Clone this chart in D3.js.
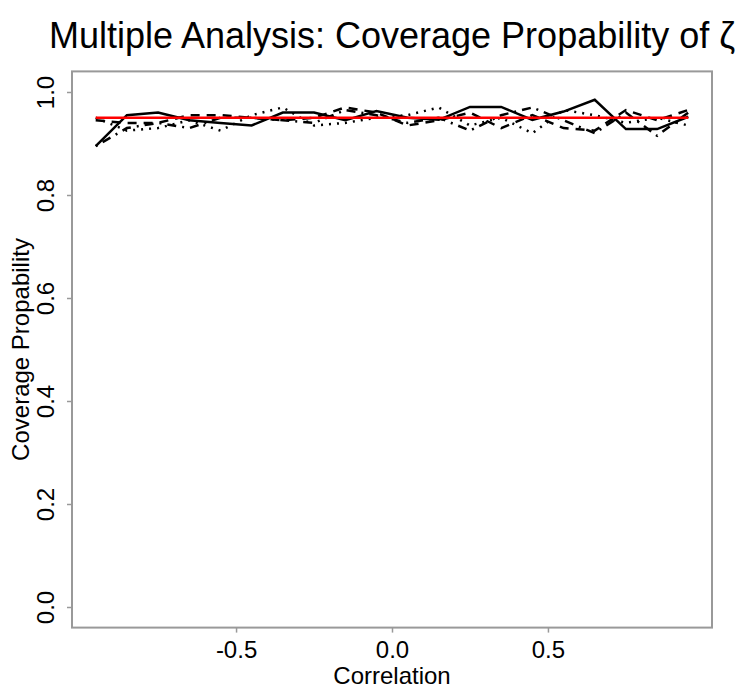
<!DOCTYPE html>
<html>
<head>
<meta charset="utf-8">
<script src="https://d3js.org/d3.v7.min.js"></script>
<style>
    body { margin: 0; background: #fff; }
    text { font-family: "Liberation Sans", Arial, sans-serif; fill: #000; }
</style>
</head>
<body>
<div id="chart"></div>
<script>
    // correlation values on the x axis
    var correlation = [-0.95, -0.85, -0.75, -0.65, -0.55, -0.45, -0.35, -0.25, -0.15, -0.05,
                        0.05, 0.15, 0.25, 0.35, 0.45, 0.55, 0.65, 0.75, 0.85, 0.95];

    // coverage probabilities, one array per line type
    var solid   = [0.895, 0.955, 0.960, 0.945, 0.940, 0.935, 0.960, 0.960, 0.945, 0.963,
                   0.950, 0.946, 0.971, 0.971, 0.946, 0.962, 0.985, 0.928, 0.928, 0.952];
    var dashed  = [0.945, 0.940, 0.940, 0.955, 0.955, 0.950, 0.945, 0.950, 0.970, 0.960,
                   0.935, 0.945, 0.960, 0.930, 0.955, 0.930, 0.925, 0.965, 0.945, 0.965];
    var dotted  = [0.950, 0.925, 0.930, 0.945, 0.925, 0.955, 0.970, 0.935, 0.940, 0.950,
                   0.955, 0.970, 0.935, 0.950, 0.920, 0.965, 0.955, 0.940, 0.950, 0.935];
    var dotdash = [0.895, 0.930, 0.940, 0.930, 0.950, 0.950, 0.945, 0.940, 0.965, 0.955,
                   0.940, 0.950, 0.925, 0.955, 0.970, 0.945, 0.920, 0.960, 0.915, 0.960];
    var nominal = 0.95;

    var xTicks = [-0.5, 0, 0.5];
    var yTicks = [0, 0.2, 0.4, 0.6, 0.8, 1.0];

    var width = 741, height = 700;
    var margin = {top: 71.4, right: 29, bottom: 72.4, left: 72};

    var svg = d3.select("#chart").append("svg")
        .attr("width", width)
        .attr("height", height);

    // R style: data range padded by 4% on each side
    var xPad = (0.95 - -0.95) * 0.04, yPad = 0.04;
    var x = d3.scaleLinear()
        .domain([-0.95 - xPad, 0.95 + xPad])
        .range([margin.left, width - margin.right]);
    var y = d3.scaleLinear()
        .domain([0 - yPad, 1 + yPad])
        .range([height - margin.bottom, margin.top]);

    // plot box
    svg.append("rect")
        .attr("x", x.range()[0])
        .attr("y", y.range()[1])
        .attr("width", x.range()[1] - x.range()[0])
        .attr("height", y.range()[0] - y.range()[1])
        .attr("fill", "none")
        .attr("stroke", "#999")
        .attr("stroke-width", 2);

    // x axis
    var xAxis = svg.append("g")
        .attr("transform", "translate(0," + y.range()[0] + ")")
        .call(d3.axisBottom(x).tickValues(xTicks).tickSize(5).tickPadding(8)
            .tickFormat(d3.format(".1f")));
    xAxis.select(".domain").remove();
    xAxis.selectAll("line").attr("stroke", "#999").attr("stroke-width", 1.5);
    xAxis.selectAll("text").attr("font-size", 24).attr("fill", "#000")
        .text(function (d) { return d3.format(".1f")(d).replace("−", "-"); });

    // y axis, labels turned like R's default las = 0
    var yAxis = svg.append("g")
        .attr("transform", "translate(" + x.range()[0] + ",0)")
        .call(d3.axisLeft(y).tickValues(yTicks).tickSize(5).tickFormat(d3.format(".1f")));
    yAxis.select(".domain").remove();
    yAxis.selectAll("line").attr("stroke", "#999").attr("stroke-width", 1.5);
    yAxis.selectAll("text")
        .attr("font-size", 24)
        .attr("fill", "#000")
        .attr("x", null).attr("dy", null)
        .attr("text-anchor", "middle")
        .attr("transform", "translate(-18,0) rotate(-90)");

    // the four series
    var line = d3.line()
        .x(function (d, i) { return x(correlation[i]); })
        .y(function (d) { return y(d); });

    var series = [
        {values: solid, dash: null},
        {values: dashed, dash: "9,7"},
        {values: dotted, dash: "2,6"},
        {values: dotdash, dash: "2,6,9,6"}
    ];

    svg.selectAll("path.series")
        .data(series)
        .enter()
        .append("path")
        .attr("class", "series")
        .attr("d", function (d) { return line(d.values); })
        .attr("fill", "none")
        .attr("stroke", "#000")
        .attr("stroke-width", 2.5)
        .attr("stroke-dasharray", function (d) { return d.dash; });

    // nominal coverage line
    svg.append("path")
        .attr("d", line(correlation.map(function () { return nominal; })))
        .attr("fill", "none")
        .attr("stroke", "#ff0000")
        .attr("stroke-width", 2.5);

    // titles
    svg.append("text")
        .attr("x", (x.range()[0] + x.range()[1]) / 2)
        .attr("y", 48)
        .attr("text-anchor", "middle")
        .attr("font-size", 36)
        .text("Multiple Analysis: Coverage Propability of ζ");

    svg.append("text")
        .attr("x", (x.range()[0] + x.range()[1]) / 2)
        .attr("y", 684)
        .attr("text-anchor", "middle")
        .attr("font-size", 24)
        .text("Correlation");

    svg.append("text")
        .attr("transform", "translate(29," + (y.range()[0] + y.range()[1]) / 2 + ") rotate(-90)")
        .attr("text-anchor", "middle")
        .attr("font-size", 24)
        .text("Coverage Propability");
</script>
</body>
</html>
